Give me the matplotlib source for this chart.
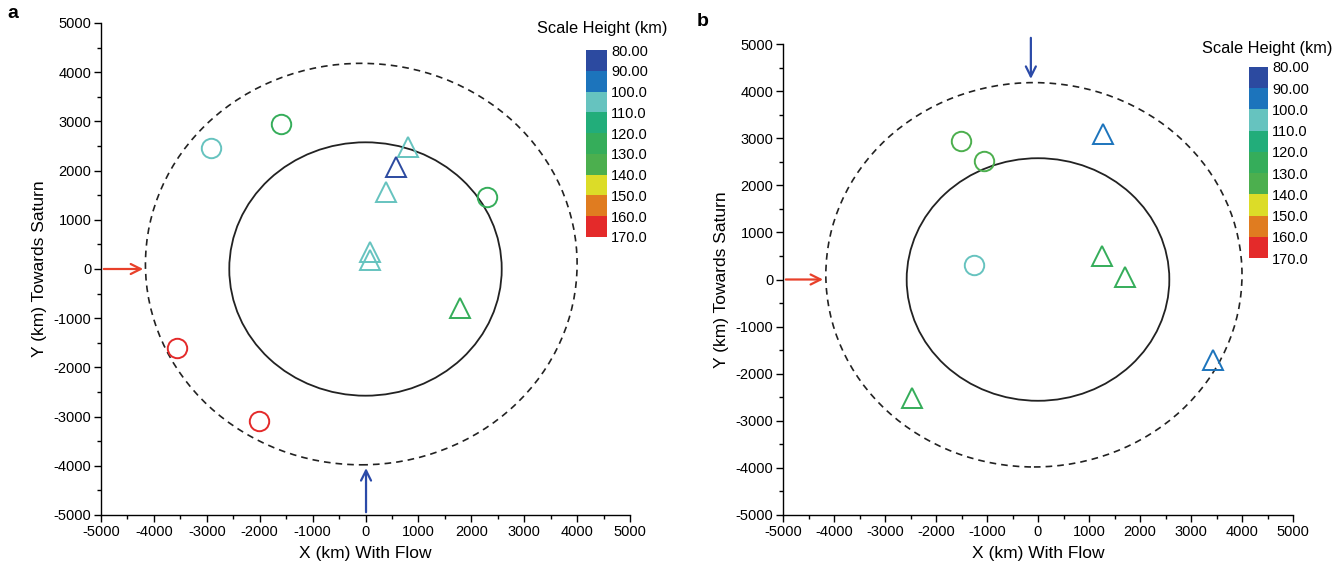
import matplotlib
matplotlib.use("Agg")
import matplotlib.pyplot as plt
import numpy as np
from matplotlib.colors import ListedColormap, BoundaryNorm
from matplotlib.patches import Circle
import matplotlib.colorbar as mcolorbar
from matplotlib.ticker import MultipleLocator

plt.rcParams['font.family'] = ['Liberation Sans', 'DejaVu Sans']
plt.rcParams['axes.unicode_minus'] = False

# ---------------- data ----------------
bounds = [80, 90, 100, 110, 120, 130, 140, 150, 160, 170]
bound_labels = ['80.00', '90.00', '100.0', '110.0', '120.0', '130.0',
                '140.0', '150.0', '160.0', '170.0']
cb_colors = ['#2c4aa0', '#1c74bc', '#66c3bf', '#22ad7a', '#35ad5a',
             '#4caf4e', '#dcdc28', '#e07c20', '#e42a2a']

# panel a
a_circ_x = [-1600, -2920, 2290, -3570, -2010]
a_circ_y = [2940, 2450, 1460, -1600, -3090]
a_circ_h = [125, 105, 125, 165, 165]
a_tri_x = [800, 580, 380, 80, 80, 1790]
a_tri_y = [2480, 2080, 1570, 350, 180, -800]
a_tri_h = [105, 85, 105, 105, 105, 125]

# panel b
b_circ_x = [-1510, -1050, -1260]
b_circ_y = [2940, 2516, 308]
b_circ_h = [135, 135, 105]
b_tri_x = [1270, 1250, 1710, 3440, -2480]
b_tri_y = [3080, 500, 60, -1710, -2520]
b_tri_h = [95, 125, 125, 95, 125]

titan_radius = 2575
outer_radius = 4080
outer_center = (-80, 100)

cmap = ListedColormap(cb_colors)
norm = BoundaryNorm(bounds, cmap.N)

W, H = 1335, 581
fig = plt.figure(figsize=(W / 100, H / 100), dpi=100)

def fx(px):
    return px / W

def fy(py):
    return 1 - py / H

ax_a = fig.add_axes([fx(101), fy(515), (630 - 101) / W, (515 - 23) / H])
ax_b = fig.add_axes([fx(783), fy(515), (1293 - 783) / W, (515 - 44) / H])
cax_a = fig.add_axes([fx(586), fy(237), 21 / W, 187 / H])
cax_b = fig.add_axes([fx(1249), fy(258), 19 / W, 191 / H])

def style_axes(ax):
    ax.set_xlim(-5000, 5000)
    ax.set_ylim(-5000, 5000)
    for s in ['top', 'right']:
        ax.spines[s].set_visible(False)
    for s in ['left', 'bottom']:
        ax.spines[s].set_linewidth(1.0)
    ax.xaxis.set_major_locator(MultipleLocator(1000))
    ax.yaxis.set_major_locator(MultipleLocator(1000))
    ax.xaxis.set_minor_locator(MultipleLocator(500))
    ax.yaxis.set_minor_locator(MultipleLocator(500))
    ax.tick_params(which='major', direction='out', length=5, width=1.0, labelsize=10.5, pad=2)
    ax.tick_params(which='minor', direction='out', length=3, width=1.0)
    ax.set_xlabel('X (km) With Flow', fontsize=12.5, labelpad=5)
    ax.set_ylabel('Y (km) Towards Saturn', fontsize=12.5, labelpad=5)
    ax.add_patch(Circle((0, 0), titan_radius, fill=False, ec='#222222', lw=1.3, zorder=2))
    ax.add_patch(Circle(outer_center, outer_radius, fill=False, ec='#222222', lw=1.2,
                        ls=(0, (4, 3)), zorder=2))

def draw_points(ax, cx, cy, ch, tx, ty, th):
    ccol = cmap(norm(np.array(ch)))
    tcol = cmap(norm(np.array(th)))
    for x, y, c in zip(cx, cy, ccol):
        ax.plot(x, y, marker='o', ms=14, mfc='none', mec=c, mew=1.4, ls='none', zorder=3)
    for x, y, c in zip(tx, ty, tcol):
        ax.plot(x, y, marker='^', ms=15, mfc='none', mec=c, mew=1.4, ls='none', zorder=3)

def colorbar(cax):
    cb = mcolorbar.ColorbarBase(cax, cmap=cmap, norm=norm, boundaries=bounds,
                                ticks=bounds, orientation='vertical')
    cb.outline.set_visible(False)
    cax.invert_yaxis()
    cb.set_ticklabels(bound_labels)
    cax.tick_params(length=0, labelsize=10.5, pad=3)
    return cb

red = '#e8402a'
blue = '#2b4aa8'
arrow_kw = dict(arrowstyle='->', lw=1.6, mutation_scale=18)

# panel a
style_axes(ax_a)
draw_points(ax_a, a_circ_x, a_circ_y, a_circ_h, a_tri_x, a_tri_y, a_tri_h)
ax_a.annotate('', xy=(-4150, 0), xytext=(-5000, 0),
              arrowprops=dict(color=red, **arrow_kw), annotation_clip=False)
ax_a.annotate('', xy=(10, -3990), xytext=(10, -5000),
              arrowprops=dict(color=blue, **arrow_kw), annotation_clip=False)
colorbar(cax_a)
fig.text(fx(667), fy(29), 'Scale Height (km)', ha='right', va='center', fontsize=11.8)
fig.text(fx(13), fy(13), 'a', ha='center', va='center', fontsize=14, fontweight='bold')

# panel b
style_axes(ax_b)
draw_points(ax_b, b_circ_x, b_circ_y, b_circ_h, b_tri_x, b_tri_y, b_tri_h)
ax_b.annotate('', xy=(-4160, 0), xytext=(-5000, 0),
              arrowprops=dict(color=red, **arrow_kw), annotation_clip=False)
ax_b.annotate('', xy=(-140, 4200), xytext=(-140, 5190),
              arrowprops=dict(color=blue, **arrow_kw), annotation_clip=False)
colorbar(cax_b)
fig.text(fx(1332), fy(48), 'Scale Height (km)', ha='right', va='center', fontsize=11.8)
fig.text(fx(703), fy(21), 'b', ha='center', va='center', fontsize=14, fontweight='bold')

fig.savefig('out.png', dpi=100)
